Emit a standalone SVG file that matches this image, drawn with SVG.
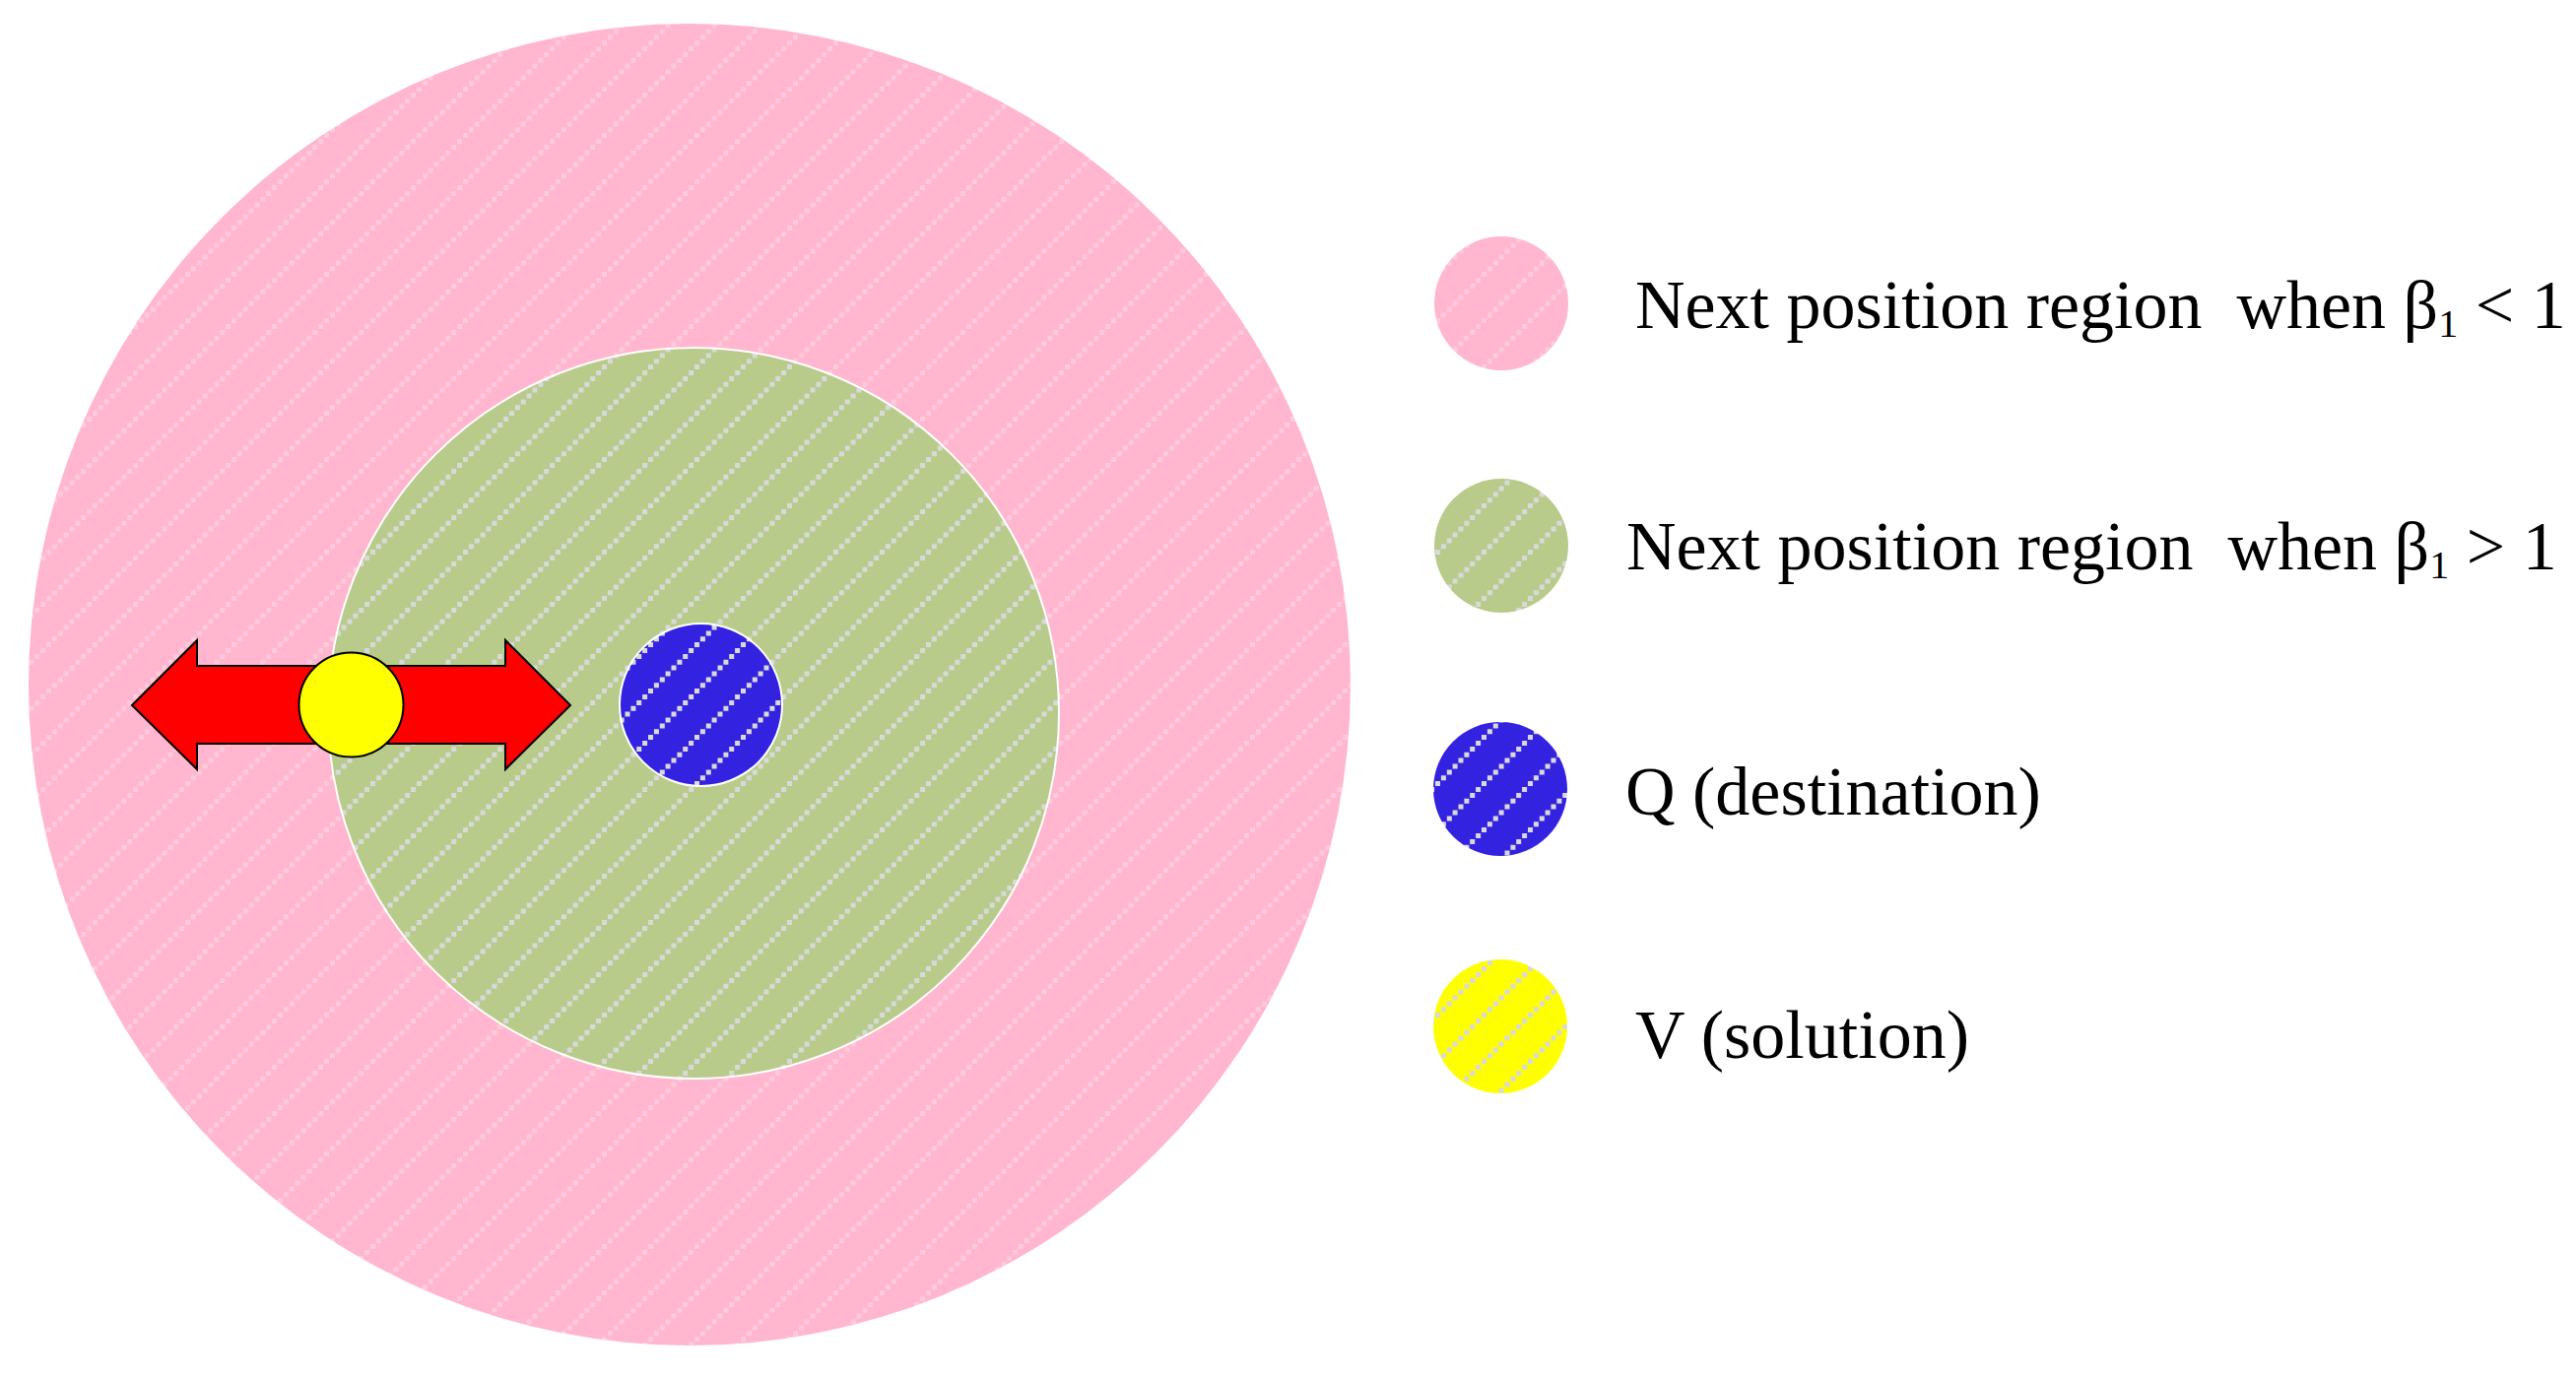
<svg xmlns="http://www.w3.org/2000/svg" xmlns:xlink="http://www.w3.org/1999/xlink" width="2615" height="1401" viewBox="0 0 2615 1401">
<style>
.lbl{font-family:"Liberation Serif","Times New Roman",serif;font-size:70px;fill:#000}
.sub{font-size:40px}
.ring{stroke:#fff;stroke-width:2}
</style>
<defs>
<path id="dots" d="M0 41.1h5v5h-5zM5.9 35.2h5v5h-5zM11.8 29.4h5v5h-5zM17.6 23.5h5v5h-5zM23.5 17.6h5v5h-5zM29.4 11.8h5v5h-5zM35.2 5.9h5v5h-5zM41.1 0h5v5h-5z"/>
<pattern id="pPink" patternUnits="userSpaceOnUse" width="47" height="47">
<rect width="47" height="47" fill="#FFB6CE"/><use xlink:href="#dots" fill="#FFCADA"/>
</pattern>
<pattern id="pGreen" patternUnits="userSpaceOnUse" width="47" height="47">
<rect width="47" height="47" fill="#B8CB8A"/><use xlink:href="#dots" fill="#D9D9D9"/>
</pattern>
<pattern id="pBlue" patternUnits="userSpaceOnUse" width="47" height="47">
<rect width="47" height="47" fill="#3322E0"/><use xlink:href="#dots" fill="#D9D9D9"/>
</pattern>
<pattern id="pYellow" patternUnits="userSpaceOnUse" width="47" height="47">
<rect width="47" height="47" fill="#FFFF00"/><use xlink:href="#dots" fill="#D9D9D9"/>
</pattern>
</defs>
<rect width="2615" height="1401" fill="#fff"/>
<g id="region-beta-lt-1"><circle cx="700" cy="695" r="671" fill="url(#pPink)"/></g>
<g id="region-beta-gt-1"><circle class="ring" cx="704" cy="724" r="371" fill="url(#pGreen)"/></g>
<g id="destination-Q"><circle class="ring" cx="711.5" cy="715.5" r="82.5" fill="url(#pBlue)"/></g>
<g id="connectors">
<polygon points="134,716 200,650 200,676 513,676 513,650 579,716 513,781 513,755 200,755 200,781" fill="#FF0000" stroke="#000" stroke-width="2" stroke-linejoin="miter"/>
</g>
<g id="solution-V"><circle cx="356.5" cy="715.5" r="53" fill="#FFFF00" stroke="#000" stroke-width="2"/></g>
<g id="legend">
<g id="legend-pink"><circle cx="1524" cy="308" r="68" fill="url(#pPink)"/>
<text class="lbl" x="1660" y="333" xml:space="preserve">Next position region  when β<tspan class="sub" dy="9">1</tspan><tspan dy="-9"> &lt; 1</tspan></text></g>
<g id="legend-green"><circle cx="1524" cy="554" r="68" fill="url(#pGreen)"/>
<text class="lbl" x="1651" y="578" xml:space="preserve">Next position region  when β<tspan class="sub" dy="9">1</tspan><tspan dy="-9"> &gt; 1</tspan></text></g>
<g id="legend-blue"><circle cx="1523" cy="801" r="68" fill="url(#pBlue)"/>
<text class="lbl" x="1650" y="827">Q (destination)</text></g>
<g id="legend-yellow"><circle cx="1523" cy="1042" r="68" fill="url(#pYellow)"/>
<text class="lbl" x="1660" y="1074">V (solution)</text></g>
</g>
</svg>
